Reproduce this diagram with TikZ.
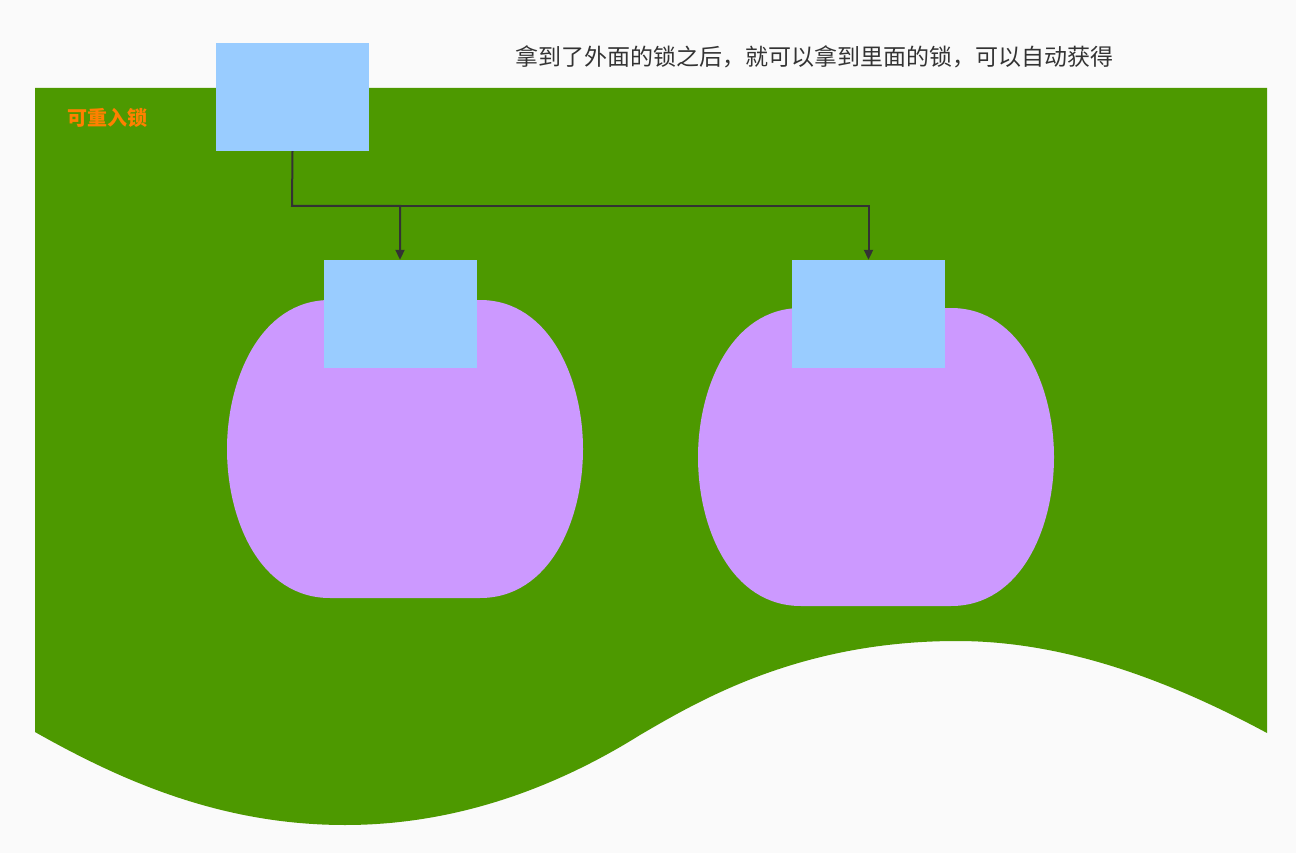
\documentclass[tikz,border=0pt]{standalone}
\usepackage{fontspec}
\newfontfamily\cjk{Noto Sans CJK SC}
\usetikzlibrary{arrows.meta}
\definecolor{bg}{HTML}{FAFAFA}
\definecolor{grn}{HTML}{4D9900}
\definecolor{blu}{HTML}{99CCFF}
\definecolor{pur}{HTML}{CC99FF}
\definecolor{org}{HTML}{FF8000}
\definecolor{txt}{HTML}{333333}
\tikzset{lockbox/.style={fill=blu,draw=none,minimum width=153pt,minimum height=108pt,inner sep=0pt},
 conn/.style={draw=txt,line width=2pt,-{Triangle[length=10pt,width=9pt]}}}
\begin{document}
\begin{tikzpicture}[x=1pt,y=-1pt]
\fill[bg] (0,0) rectangle (1296,853);
\fill[grn] (35,88) -- (1267,88) -- (1267,733)
  .. controls (1150,670) and (1050,641) .. (957,641)
  .. controls (800,641) and (700,700) .. (640,735)
  .. controls (560,785) and (460,825) .. (345,825)
  .. controls (220,825) and (120,780) .. (35,732) -- cycle;
\foreach \dx/\dy in {0/0,471/8}{
 \fill[pur,shift={(\dx,\dy)}] (330,300) -- (480,300) .. controls (550,300) and (583,380) .. (583,449)
  .. controls (583,520) and (550,598) .. (480,598) -- (330,598)
  .. controls (260,598) and (227,520) .. (227,449) .. controls (227,380) and (260,300) .. (330,300) -- cycle;}
\node[lockbox] (outer) at (292.5,97) {};
\node[lockbox] (in1) at (400,314) {};
\node[lockbox] (in2) at (868.5,314) {};
\coordinate (j) at (292,206);
\draw[conn] (outer.south) -- (j) -| (in1.north);
\draw[conn] (j) -| (in2.north);
\node[font=\cjk\bfseries,text=org,font=\cjk\fontsize{20}{24}\selectfont\bfseries] (title) at (107,118) {可重入锁};
\node[font=\cjk\fontsize{23}{28}\selectfont,text=txt] (note) at (814,57) {拿到了外面的锁之后，就可以拿到里面的锁，可以自动获得};
\end{tikzpicture}
\end{document}
